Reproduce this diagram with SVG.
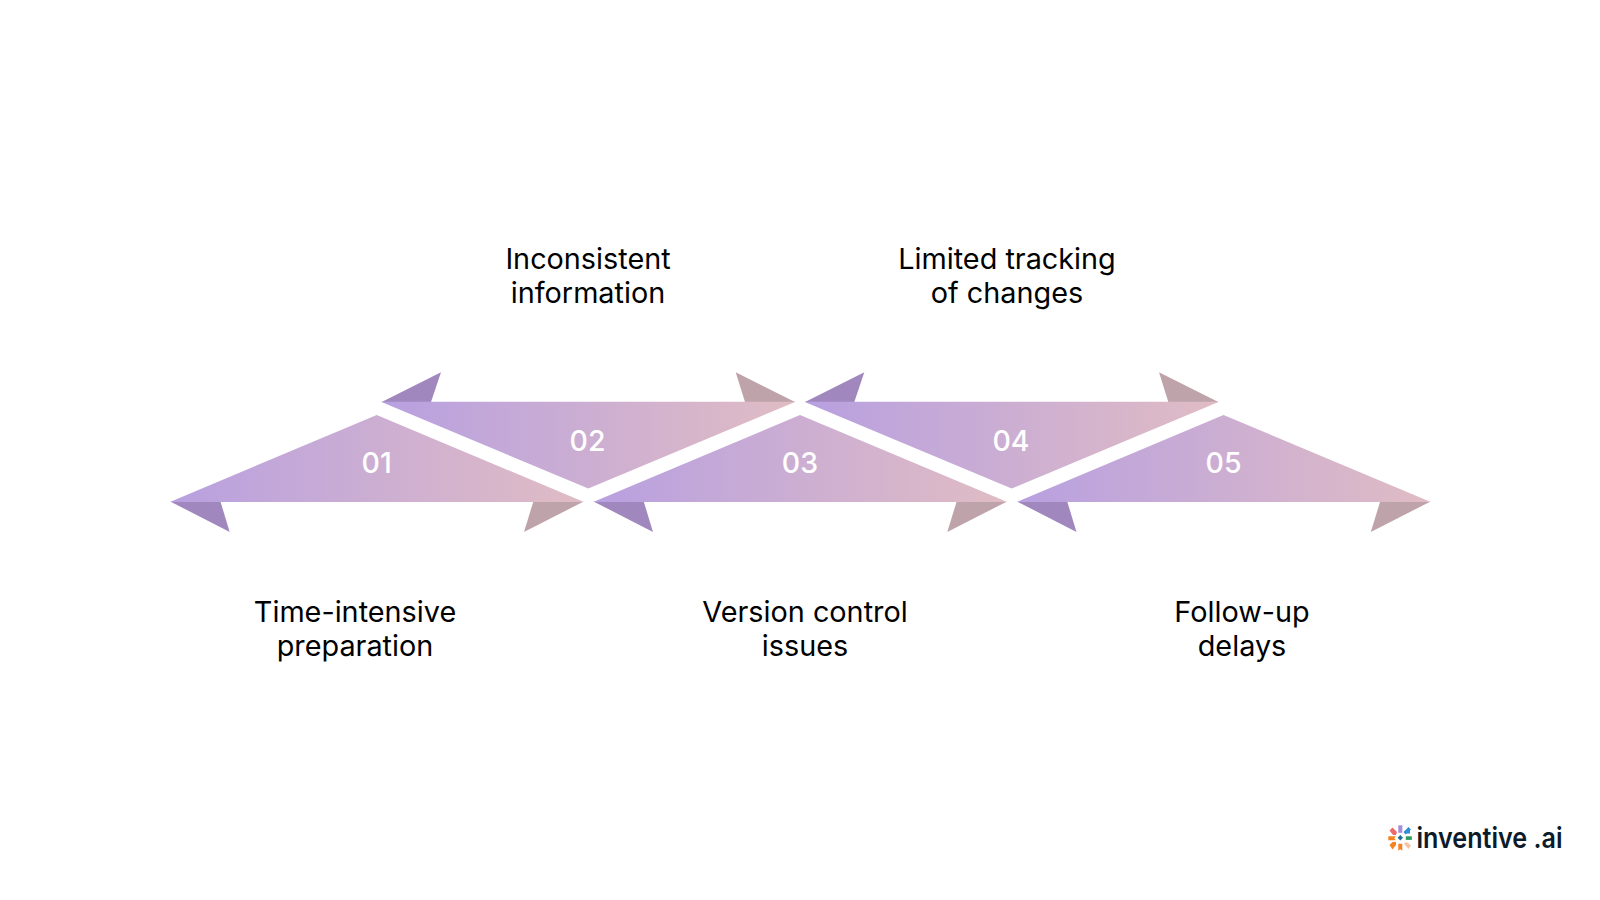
<svg xmlns="http://www.w3.org/2000/svg" xmlns:xlink="http://www.w3.org/1999/xlink" width="1600" height="900" viewBox="0 0 1600 900">
<style>
.lbl{font-family:"Inter","Liberation Sans",sans-serif;font-size:28.8px;fill:#000;text-anchor:middle}
.num{font-family:"Inter","Liberation Sans",sans-serif;font-size:28.500px;font-weight:500;fill:#fff;text-anchor:middle}
.logo{font-family:"Inter","Liberation Sans",sans-serif;font-size:28px;font-weight:600;fill:#0b1b2b}
.tl{fill:#a088bf}.tr{fill:#bfa3aa}
</style>
<defs>
<linearGradient id="g" x1="0" y1="0" x2="1" y2="0"><stop offset="0" stop-color="#b8a0e0"/><stop offset="1" stop-color="#e0bcc4"/></linearGradient>
<g id="up"><path class="tl" d="M0 0L59 30.300 49.800 0Z"/><path class="tr" d="M412.600 0L353.300 30.300 362.600 0Z"/><path fill="url(#g)" d="M-0.800 0.300L206 -86.700 413.400 0.300Z"/></g>
<g id="dn"><path class="tl" d="M0 0L59.300 -29.700 49.300 0Z"/><path class="tr" d="M413.300 0L354 -29.700 363.300 0Z"/><path fill="url(#g)" d="M-0.800 -0.300H414.100L206.600 86.600Z"/></g>
</defs>
<g id="connectors"/>
<g id="node-01"><use xlink:href="#up" href="#up" x="170.700" y="501.700"/><text class="num" x="376.700" y="472.500">01</text><text class="lbl" x="355" y="622">Time-intensive</text><text class="lbl" x="355" y="656">preparation</text></g>
<g id="node-02"><use xlink:href="#dn" href="#dn" x="381.700" y="402"/><text class="num" x="587.500" y="451">02</text><text class="lbl" x="588" y="268.500">Inconsistent</text><text class="lbl" x="588" y="302.500">information</text></g>
<g id="node-03"><use xlink:href="#up" href="#up" x="594" y="501.700"/><text class="num" x="800" y="472.500">03</text><text class="lbl" x="805" y="622">Version control</text><text class="lbl" x="805" y="656">issues</text></g>
<g id="node-04"><use xlink:href="#dn" href="#dn" x="805" y="402"/><text class="num" x="1011" y="451">04</text><text class="lbl" x="1007" y="268.500">Limited tracking</text><text class="lbl" x="1007" y="302.500">of changes</text></g>
<g id="node-05"><use xlink:href="#up" href="#up" x="1017.500" y="501.700"/><text class="num" x="1223.500" y="472.500">05</text><text class="lbl" x="1242" y="622">Follow-up</text><text class="lbl" x="1242" y="656">delays</text></g>
<g id="logo">
<rect x="1398.300" y="825.300" width="4" height="7.500" fill="#a78bdc"/>
<path d="M1389.500 830.500l3-3 4.500 4.500-1 3-3 0z" fill="#ec6a6a"/>
<path d="M1403.500 832l5-5 2.500 2.500-1 1 0 3-3 0-1.500 1z" fill="#2f8fd8"/>
<path d="M1388.300 836.300h7.500l-1.500 2 1.500 2h-7.500z" fill="#f58220"/>
<rect x="1405.800" y="836.300" width="6" height="3.600" fill="#2a9d5c"/>
<path d="M1400.300 835l2.700 2.700-2.700 2.700-2.700-2.700z" fill="#1f6d8c"/>
<path d="M1389.500 845l3-3 3.500 0 0 3-3.500 4.500z" fill="#f58220"/>
<path d="M1398.300 843.700h4v7l-2-1.500-2 1.500z" fill="#f58220"/>
<path d="M1404.500 842.500h3l3.500 3-2.500 3.500-4-4.500z" fill="#f4c4a0"/>
<text class="logo" x="1416.500" y="848.300" textLength="146" lengthAdjust="spacingAndGlyphs">inventive .ai</text>
</g>
</svg>
